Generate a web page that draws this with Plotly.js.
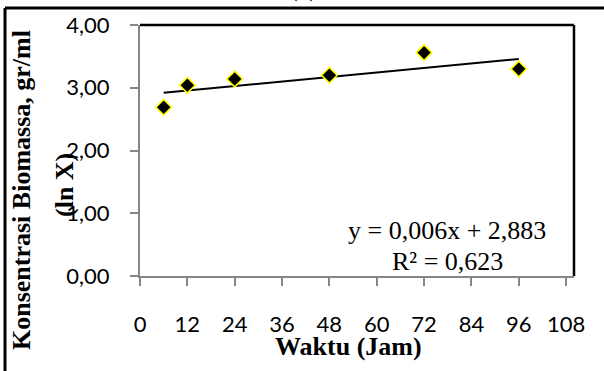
<!DOCTYPE html>
<html>
<head>
<meta charset="utf-8">
<script src="https://cdn.plot.ly/plotly-3.0.1.min.js"></script>
<style>
  html, body { margin: 0; padding: 0; background: #fff; }
  #chart { width: 604px; height: 371px; }
</style>
</head>
<body>
<div id="chart"></div>
<script>
// Biomass concentration (ln X) sampled over time
const hours = [6, 12, 24, 48, 72, 96];
const lnX = [2.69, 3.04, 3.14, 3.20, 3.56, 3.30];

// Linear trend stated on the chart
const slope = 0.006;
const intercept = 2.883;
const rSquared = 0.623;

// Axis ticks
const xTickVals = [0, 12, 24, 36, 48, 60, 72, 84, 96, 108];
const xTickText = ['0', '12', '24', '36', '48', '60', '72', '84', '96', '108'];
const yTickVals = [0, 1, 2, 3, 4];
const yTickText = ['0,00', '1,00', '2,00', '3,00', '4,00'];

const fmt = (v, d) => v.toFixed(d).replace('.', ',');

const trendX = [Math.min(...hours), Math.max(...hours)];
const trendY = trendX.map(x => intercept + slope * x);

const serif = 'Liberation Serif, Times New Roman, serif';
const sans = 'Lato, Carlito, Calibri, sans-serif';

const traces = [
  {
    x: trendX, y: trendY, type: 'scatter', mode: 'lines',
    line: { color: '#000', width: 2 }, hoverinfo: 'skip', showlegend: false
  },
  {
    x: hours, y: lnX, type: 'scatter', mode: 'markers',
    marker: { symbol: 'diamond', size: 12, color: '#000', line: { color: '#FFFF00', width: 1.6 } },
    showlegend: false
  }
];

const axisGrey = '#868686';

// pixel helpers for placing annotations around the plot area (l=140, r=574, t=25, b=276)
const px = x => (x - 140) / 434;
const py = y => (276 - y) / 251;

const layout = {
  width: 604, height: 371,
  margin: { l: 140, r: 30, t: 25, b: 95 },
  paper_bgcolor: '#fff', plot_bgcolor: '#fff',
  showlegend: false,
  xaxis: {
    range: [0, 110], tickvals: xTickVals, ticktext: xTickText,
    showgrid: false, zeroline: false,
    showline: true, linecolor: axisGrey, linewidth: 2,
    ticks: 'outside', ticklen: 8, tickwidth: 2, tickcolor: axisGrey,
    tickfont: { family: sans, size: 22, color: '#000' },
    ticklabelstandoff: 20,
    fixedrange: true
  },
  yaxis: {
    range: [0, 4], tickvals: yTickVals, ticktext: yTickText,
    showgrid: false, zeroline: false,
    showline: true, linecolor: axisGrey, linewidth: 2,
    ticks: 'outside', ticklen: 8, tickwidth: 2, tickcolor: axisGrey,
    tickfont: { family: sans, size: 22, color: '#000' },
    ticklabelstandoff: 16,
    fixedrange: true
  },
  shapes: [
    // plot area border (top and right)
    { type: 'line', xref: 'paper', yref: 'paper', x0: 0, x1: 1, y0: 1, y1: 1, line: { color: '#000', width: 2.5 } },
    { type: 'line', xref: 'paper', yref: 'paper', x0: 1, x1: 1, y0: 0, y1: 1, line: { color: '#000', width: 2.5 } },
    // chart frame
    { type: 'line', xref: 'paper', yref: 'paper', x0: px(5), x1: px(620), y0: py(8), y1: py(8), line: { color: '#000', width: 3 } },
    { type: 'line', xref: 'paper', yref: 'paper', x0: px(5), x1: px(5), y0: py(8), y1: py(390), line: { color: '#000', width: 3 } }
  ],
  annotations: [
    {
      text: '(a)', xref: 'paper', yref: 'paper', x: px(303), y: py(4),
      xanchor: 'center', yanchor: 'bottom', showarrow: false,
      font: { family: serif, size: 26, color: '#000' }
    },
    {
      text: '<b>Konsentrasi Biomassa, gr/ml</b>', textangle: -90,
      xref: 'paper', yref: 'paper', x: px(21), y: py(190),
      xanchor: 'center', yanchor: 'middle', showarrow: false,
      font: { family: serif, size: 26, color: '#000' }
    },
    {
      text: '<b>(ln X)</b>', textangle: -90,
      xref: 'paper', yref: 'paper', x: px(64), y: py(185),
      xanchor: 'center', yanchor: 'middle', showarrow: false,
      font: { family: serif, size: 26, color: '#000' }
    },
    {
      text: '<b>Waktu (Jam)</b>',
      xref: 'paper', yref: 'paper', x: px(348), y: py(346),
      xanchor: 'center', yanchor: 'middle', showarrow: false,
      font: { family: serif, size: 26, color: '#000' }
    },
    {
      text: 'y = ' + fmt(slope, 3) + 'x + ' + fmt(intercept, 3),
      xref: 'paper', yref: 'paper', x: px(447), y: py(231),
      xanchor: 'center', yanchor: 'middle', showarrow: false,
      font: { family: serif, size: 26, color: '#000' }
    },
    {
      text: 'R² = ' + fmt(rSquared, 3),
      xref: 'paper', yref: 'paper', x: px(447), y: py(261),
      xanchor: 'center', yanchor: 'middle', showarrow: false,
      font: { family: serif, size: 26, color: '#000' }
    }
  ]
};

Plotly.newPlot('chart', traces, layout, { displayModeBar: false, staticPlot: true });
</script>
</body>
</html>
